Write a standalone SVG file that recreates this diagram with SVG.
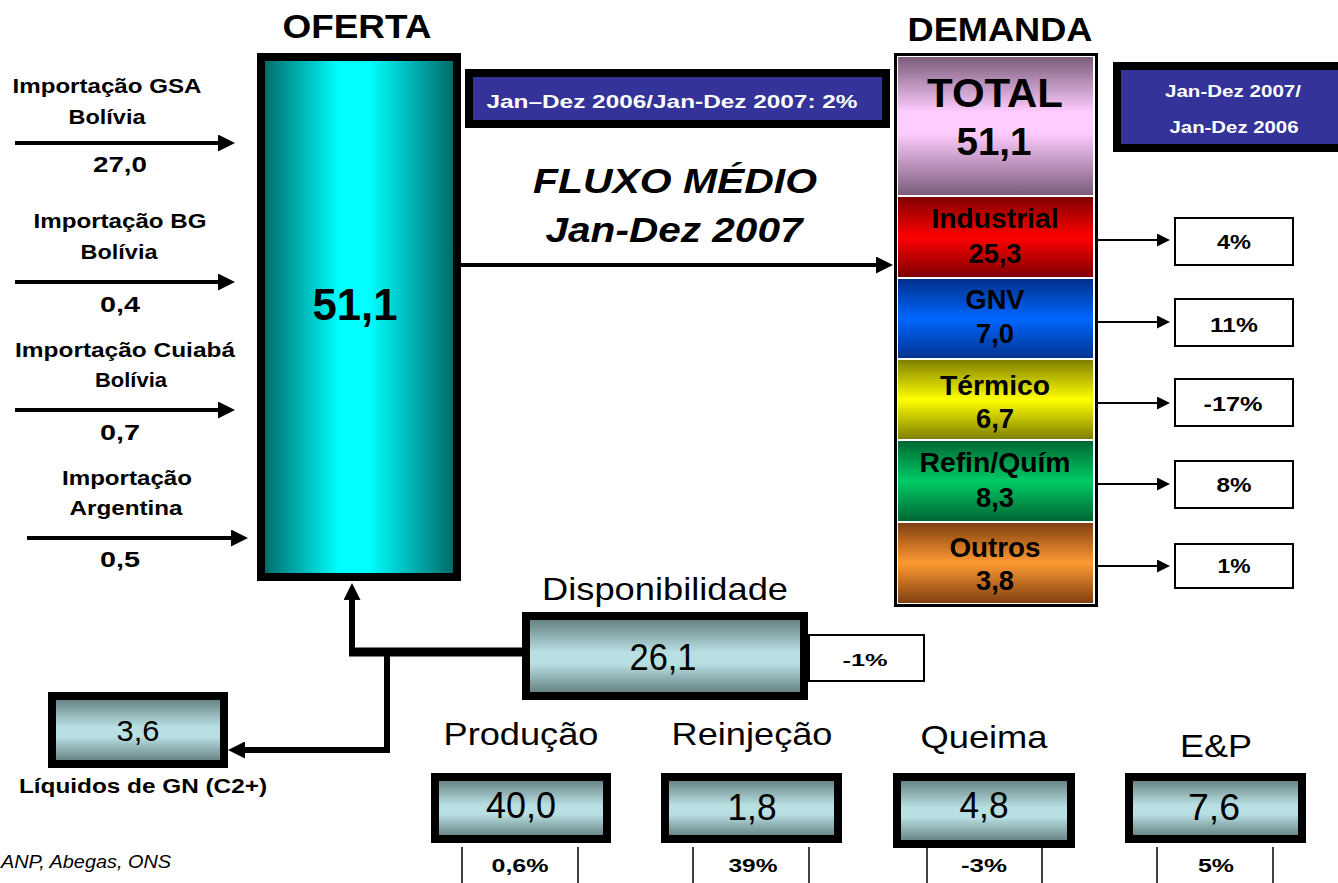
<svg xmlns="http://www.w3.org/2000/svg" width="1338" height="883" viewBox="0 0 1338 883">
<style>
text{font-family:"Liberation Sans",Arial,sans-serif;fill:#000;text-anchor:middle}
.b{font-weight:bold}
.wt{fill:#fff;font-weight:bold}
.thick{stroke:#000;stroke-width:8}
.pbox{fill:#fff;stroke:#000;stroke-width:2}
.tick{stroke:#000;stroke-width:1.5}
.c4{fill:none;stroke:#000;stroke-width:4}
.c2{fill:none;stroke:#000;stroke-width:2}
.c6{fill:none;stroke:#000;stroke-width:6}
</style>
<defs>
<linearGradient id="gOf" x1="0" y1="0" x2="1" y2="0"><stop offset="0" stop-color="#006464"/><stop offset="0.4" stop-color="#00ffff"/><stop offset="0.55" stop-color="#00ffff"/><stop offset="1" stop-color="#006464"/></linearGradient>
<linearGradient id="gBox" x1="0" y1="0" x2="0" y2="1"><stop offset="0" stop-color="#5c7678"/><stop offset="0.45" stop-color="#b8dfe2"/><stop offset="0.6" stop-color="#b8dfe2"/><stop offset="1" stop-color="#5c7678"/></linearGradient>
<linearGradient id="gTot" x1="0" y1="0" x2="0" y2="1"><stop offset="0" stop-color="#7a5c7a"/><stop offset="0.4" stop-color="#ffccff"/><stop offset="0.55" stop-color="#ffccff"/><stop offset="1" stop-color="#7a5c7a"/></linearGradient>
<linearGradient id="gInd" x1="0" y1="0" x2="0" y2="1"><stop offset="0" stop-color="#800000"/><stop offset="0.5" stop-color="#ff0000"/><stop offset="1" stop-color="#800000"/></linearGradient>
<linearGradient id="gGnv" x1="0" y1="0" x2="0" y2="1"><stop offset="0" stop-color="#002f8a"/><stop offset="0.5" stop-color="#0066ff"/><stop offset="1" stop-color="#00338f"/></linearGradient>
<linearGradient id="gTer" x1="0" y1="0" x2="0" y2="1"><stop offset="0" stop-color="#808000"/><stop offset="0.5" stop-color="#ffff00"/><stop offset="1" stop-color="#808000"/></linearGradient>
<linearGradient id="gRef" x1="0" y1="0" x2="0" y2="1"><stop offset="0" stop-color="#006633"/><stop offset="0.5" stop-color="#00cc66"/><stop offset="1" stop-color="#006633"/></linearGradient>
<linearGradient id="gOut" x1="0" y1="0" x2="0" y2="1"><stop offset="0" stop-color="#804010"/><stop offset="0.5" stop-color="#ff9933"/><stop offset="1" stop-color="#804010"/></linearGradient>
<marker id="mA" markerUnits="userSpaceOnUse" markerWidth="17" markerHeight="17" refX="3" refY="8.5" orient="auto"><path d="M0,0 L17,8.5 L0,17 z" fill="#000"/></marker>
<marker id="mB" markerUnits="userSpaceOnUse" markerWidth="13" markerHeight="13" refX="2" refY="6.5" orient="auto"><path d="M0,0 L13,6.5 L0,13 z" fill="#000"/></marker>
</defs>
<rect width="1338" height="883" fill="#fff"/>

<g id="titles">
<text class="b" x="357" y="38" font-size="33" textLength="149" lengthAdjust="spacingAndGlyphs">OFERTA</text>
<text class="b" x="1000" y="41" font-size="33" textLength="185" lengthAdjust="spacingAndGlyphs">DEMANDA</text>
<text class="b" x="675" y="193" font-size="35" font-style="italic" textLength="284" lengthAdjust="spacingAndGlyphs">FLUXO MÉDIO</text>
<text class="b" x="674" y="242" font-size="35" font-style="italic" textLength="257" lengthAdjust="spacingAndGlyphs">Jan-Dez 2007</text>
<text x="1" y="868" font-size="18" font-style="italic" style="text-anchor:start" textLength="170" lengthAdjust="spacingAndGlyphs">ANP, Abegas, ONS</text>
</g>

<g id="connectors">
<path class="c4" d="M15,143 H221" marker-end="url(#mA)"/>
<path class="c4" d="M15,282 H221" marker-end="url(#mA)"/>
<path class="c4" d="M15,410 H221" marker-end="url(#mA)"/>
<path class="c4" d="M27,538 H234" marker-end="url(#mA)"/>
<path class="c4" d="M461,265 H879" marker-end="url(#mA)"/>
<path class="c2" d="M1098,240 H1159" marker-end="url(#mB)"/>
<path class="c2" d="M1098,322 H1159" marker-end="url(#mB)"/>
<path class="c2" d="M1098,403 H1159" marker-end="url(#mB)"/>
<path class="c2" d="M1098,484 H1159" marker-end="url(#mB)"/>
<path class="c2" d="M1098,566 H1159" marker-end="url(#mB)"/>
<path d="M522,652 H349" fill="none" stroke="#000" stroke-width="9"/>
<path class="c6" d="M352,656 V597" marker-end="url(#mA)"/>
<path class="c6" d="M387,652 V750 H242" marker-end="url(#mA)"/>
<line class="tick" x1="462" y1="847" x2="462" y2="883"/>
<line class="tick" x1="578" y1="847" x2="578" y2="883"/>
<line class="tick" x1="693" y1="847" x2="693" y2="883"/>
<line class="tick" x1="809" y1="847" x2="809" y2="883"/>
<line class="tick" x1="927" y1="848" x2="927" y2="883"/>
<line class="tick" x1="1042" y1="848" x2="1042" y2="883"/>
<line class="tick" x1="1157" y1="847" x2="1157" y2="883"/>
<line class="tick" x1="1273" y1="847" x2="1273" y2="883"/>
</g>

<g id="imports">
<text class="b" x="107" y="93" font-size="21" textLength="189" lengthAdjust="spacingAndGlyphs">Importação GSA</text>
<text class="b" x="107" y="124" font-size="21" textLength="77" lengthAdjust="spacingAndGlyphs">Bolívia</text>
<text class="b" x="120" y="172" font-size="22" textLength="54" lengthAdjust="spacingAndGlyphs">27,0</text>
<text class="b" x="120" y="228" font-size="21" textLength="173" lengthAdjust="spacingAndGlyphs">Importação BG</text>
<text class="b" x="119" y="259" font-size="21" textLength="77" lengthAdjust="spacingAndGlyphs">Bolívia</text>
<text class="b" x="120" y="312" font-size="22" textLength="40" lengthAdjust="spacingAndGlyphs">0,4</text>
<text class="b" x="125" y="357" font-size="21" textLength="220" lengthAdjust="spacingAndGlyphs">Importação Cuiabá</text>
<text class="b" x="131" y="387" font-size="21" textLength="72" lengthAdjust="spacingAndGlyphs">Bolívia</text>
<text class="b" x="120" y="440" font-size="22" textLength="40" lengthAdjust="spacingAndGlyphs">0,7</text>
<text class="b" x="127" y="485" font-size="21" textLength="130" lengthAdjust="spacingAndGlyphs">Importação</text>
<text class="b" x="126" y="515" font-size="21" textLength="113" lengthAdjust="spacingAndGlyphs">Argentina</text>
<text class="b" x="120" y="567" font-size="22" textLength="40" lengthAdjust="spacingAndGlyphs">0,5</text>
</g>

<g id="oferta">
<rect x="261" y="57" width="196" height="520" fill="url(#gOf)" class="thick"/>
<text class="b" x="355" y="320" font-size="44" textLength="85" lengthAdjust="spacingAndGlyphs">51,1</text>
</g>

<g id="var-total">
<rect x="469" y="73" width="417" height="51" fill="#333399" stroke="#000" stroke-width="8"/>
<text class="wt" x="672" y="108" font-size="19" textLength="371" lengthAdjust="spacingAndGlyphs">Jan–Dez 2006/Jan-Dez 2007: 2%</text>
</g>

<g id="legend-var">
<rect x="1117" y="66" width="225" height="82" fill="#333399" stroke="#000" stroke-width="8"/>
<text class="wt" x="1233" y="97" font-size="17" textLength="136" lengthAdjust="spacingAndGlyphs">Jan-Dez 2007/</text>
<text class="wt" x="1234" y="133" font-size="17" textLength="129" lengthAdjust="spacingAndGlyphs">Jan-Dez 2006</text>
</g>

<g id="demanda">
<rect x="895.5" y="54.5" width="201" height="551" fill="#fff" stroke="#000" stroke-width="3"/>
<rect x="898" y="57" width="195" height="138" fill="url(#gTot)"/>
<rect x="898" y="197" width="195" height="80" fill="url(#gInd)"/>
<rect x="898" y="279" width="195" height="79" fill="url(#gGnv)"/>
<rect x="898" y="360" width="195" height="79" fill="url(#gTer)"/>
<rect x="898" y="441" width="195" height="80" fill="url(#gRef)"/>
<rect x="898" y="523" width="195" height="80" fill="url(#gOut)"/>
<text class="b" x="995" y="107" font-size="41" textLength="136" lengthAdjust="spacingAndGlyphs">TOTAL</text>
<text class="b" x="994" y="155" font-size="39" textLength="75" lengthAdjust="spacingAndGlyphs">51,1</text>
<text class="b" x="995" y="228" font-size="27" textLength="127" lengthAdjust="spacingAndGlyphs">Industrial</text>
<text class="b" x="995" y="263" font-size="27" textLength="53" lengthAdjust="spacingAndGlyphs">25,3</text>
<text class="b" x="995" y="309" font-size="27" textLength="59" lengthAdjust="spacingAndGlyphs">GNV</text>
<text class="b" x="995" y="343" font-size="27" textLength="38" lengthAdjust="spacingAndGlyphs">7,0</text>
<text class="b" x="995" y="395" font-size="27" textLength="110" lengthAdjust="spacingAndGlyphs">Térmico</text>
<text class="b" x="995" y="428" font-size="27" textLength="38" lengthAdjust="spacingAndGlyphs">6,7</text>
<text class="b" x="995" y="472" font-size="27" textLength="151" lengthAdjust="spacingAndGlyphs">Refin/Quím</text>
<text class="b" x="995" y="507" font-size="27" textLength="38" lengthAdjust="spacingAndGlyphs">8,3</text>
<text class="b" x="995" y="557" font-size="27" textLength="91" lengthAdjust="spacingAndGlyphs">Outros</text>
<text class="b" x="995" y="590" font-size="27" textLength="38" lengthAdjust="spacingAndGlyphs">3,8</text>
</g>

<g id="pct-industrial"><rect class="pbox" x="1175" y="218" width="118" height="47"/><text class="b" x="1234" y="249" font-size="20" textLength="34" lengthAdjust="spacingAndGlyphs">4%</text></g>
<g id="pct-gnv"><rect class="pbox" x="1175" y="299" width="118" height="47"/><text class="b" x="1234" y="332" font-size="20" textLength="48" lengthAdjust="spacingAndGlyphs">11%</text></g>
<g id="pct-termico"><rect class="pbox" x="1175" y="379" width="118" height="47"/><text class="b" x="1233" y="411" font-size="20" textLength="59" lengthAdjust="spacingAndGlyphs">-17%</text></g>
<g id="pct-refin"><rect class="pbox" x="1175" y="461" width="118" height="47"/><text class="b" x="1234" y="492" font-size="20" textLength="35" lengthAdjust="spacingAndGlyphs">8%</text></g>
<g id="pct-outros"><rect class="pbox" x="1175" y="544" width="118" height="44"/><text class="b" x="1234" y="573" font-size="20" textLength="33" lengthAdjust="spacingAndGlyphs">1%</text></g>

<g id="disponibilidade">
<text x="665" y="600" font-size="32" textLength="246" lengthAdjust="spacingAndGlyphs">Disponibilidade</text>
<rect x="526" y="616" width="278" height="80" fill="url(#gBox)" class="thick"/>
<text x="663" y="670" font-size="36" textLength="67" lengthAdjust="spacingAndGlyphs">26,1</text>
</g>
<g id="pct-disp"><rect class="pbox" x="809" y="635" width="115" height="46"/><text class="b" x="865" y="666" font-size="17" textLength="45" lengthAdjust="spacingAndGlyphs">-1%</text></g>

<g id="liquidos">
<rect x="52" y="696" width="172" height="68" fill="url(#gBox)" class="thick"/>
<text x="138" y="741" font-size="30" textLength="43" lengthAdjust="spacingAndGlyphs">3,6</text>
<text class="b" x="143" y="793" font-size="20" textLength="248" lengthAdjust="spacingAndGlyphs">Líquidos de GN (C2+)</text>
</g>

<g id="producao">
<text x="521" y="745" font-size="32" textLength="155" lengthAdjust="spacingAndGlyphs">Produção</text>
<rect x="435" y="777" width="172" height="62" fill="url(#gBox)" class="thick"/>
<text x="521" y="818" font-size="36" textLength="70" lengthAdjust="spacingAndGlyphs">40,0</text>
<text class="b" x="520" y="872" font-size="19" textLength="57" lengthAdjust="spacingAndGlyphs">0,6%</text>
</g>
<g id="reinjecao">
<text x="752" y="745" font-size="32" textLength="161" lengthAdjust="spacingAndGlyphs">Reinjeção</text>
<rect x="665" y="777" width="173" height="62" fill="url(#gBox)" class="thick"/>
<text x="752" y="820" font-size="36" textLength="49" lengthAdjust="spacingAndGlyphs">1,8</text>
<text class="b" x="753" y="872" font-size="19" textLength="49" lengthAdjust="spacingAndGlyphs">39%</text>
</g>
<g id="queima">
<text x="984" y="748" font-size="32" textLength="127" lengthAdjust="spacingAndGlyphs">Queima</text>
<rect x="897" y="777" width="174" height="67" fill="url(#gBox)" class="thick"/>
<text x="984" y="818" font-size="36" textLength="49" lengthAdjust="spacingAndGlyphs">4,8</text>
<text class="b" x="984" y="872" font-size="19" textLength="46" lengthAdjust="spacingAndGlyphs">-3%</text>
</g>
<g id="ep">
<text x="1216" y="757" font-size="32" textLength="72" lengthAdjust="spacingAndGlyphs">E&amp;P</text>
<rect x="1129" y="777" width="173" height="62" fill="url(#gBox)" class="thick"/>
<text x="1214" y="820" font-size="36" textLength="52" lengthAdjust="spacingAndGlyphs">7,6</text>
<text class="b" x="1216" y="872" font-size="19" textLength="36" lengthAdjust="spacingAndGlyphs">5%</text>
</g>
</svg>
